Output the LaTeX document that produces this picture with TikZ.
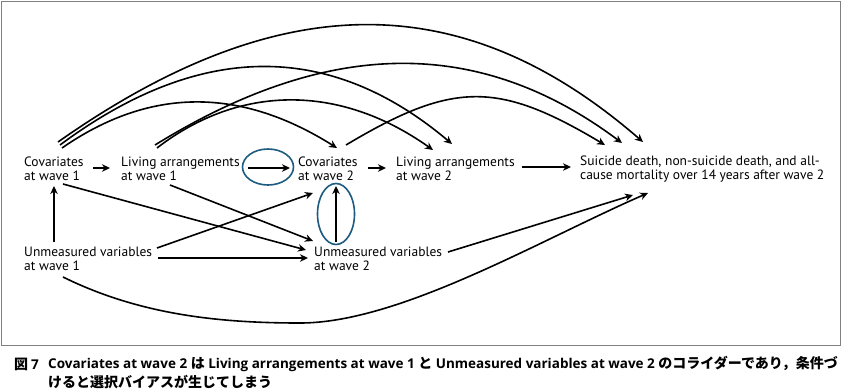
\documentclass[tikz,border=0pt]{standalone}
\usepackage{fontspec}
\setmainfont{PT Sans}
\newfontfamily\cjk{Noto Sans CJK JP}
\newfontfamily\caplat{Open Sans}
\usetikzlibrary{arrows.meta,calc}
\definecolor{ringblue}{HTML}{1D5B80}
\tikzset{
  lbl/.style={anchor=west, align=left, inner sep=0pt, font=\fontsize{13.5}{14}\selectfont},
  arr/.style={line width=1.6pt, -{Stealth[length=8pt,width=7.5pt,inset=2.5pt]}},
  ring/.style={draw=ringblue, line width=1.6pt},
  captxt/.style={anchor=west, inner sep=0pt, font=\caplat\bfseries\fontsize{13.5}{18}\selectfont}
}
\newcommand{\jp}[1]{{\cjk\fontsize{14}{18}\selectfont #1}}
\begin{document}
\begin{tikzpicture}[x=1pt,y=-1pt]
\useasboundingbox (0,0) rectangle (843,391);
\draw[gray, line width=1pt] (1.5,1.5) rectangle (840.5,345);

\node[lbl] (c1) at (24,169) {Covariates\\at wave 1};
\node[lbl] (l1) at (121,169) {Living arrangements\\at wave 1};
\node[lbl] (c2) at (298,169) {Covariates\\at wave 2};
\node[lbl] (l2) at (396,169) {Living arrangements\\at wave 2};
\node[lbl] (out) at (580,169) {Suicide death, non-suicide death, and all-\\cause mortality over 14 years after wave 2};
\node[lbl] (u1) at (24,259) {Unmeasured variables\\at wave 1};
\node[lbl] (u2) at (314,259) {Unmeasured variables\\at wave 2};

% straight arrows
\draw[arr] ([shift={(69,-1)}]c1.west) -- ([shift={(-11,-1)}]l1.west);
\draw[arr] ([shift={(127,-1)}]l1.west) -- ([shift={(-8,-1)}]c2.west);
\draw[arr] ([shift={(70,-1)}]c2.west) -- ([shift={(-10,-1)}]l2.west);
\draw[arr] ([shift={(126,-2)}]l2.west) -- ([shift={(-9,-2)}]out.west);
\draw[arr] ([shift={(30,-17)}]u1.west) -- ([shift={(30,17)}]c1.west);
\draw[arr] ([shift={(22,-17)}]u2.west) -- ([shift={(38,17)}]c2.west);
\draw[arr] ([shift={(39,15)}]c1.west) -- ([shift={(-8,-9)}]u2.west);
\draw[arr] ([shift={(49,16)}]l1.west) -- ([shift={(-1,-18)}]u2.west);
\draw[arr] ([shift={(133,-11)}]u1.west) -- ([shift={(15,24)}]c2.west);
\draw[arr] ([shift={(134,-1)}]u1.west) -- ([shift={(-6,-1)}]u2.west);
\draw[arr] ([shift={(134,-7)}]u2.west) -- ([shift={(53,26)}]out.west);

% rings
\draw[ring] ([shift={(-30,-2)}]c2.west) ellipse [x radius=25.5, y radius=18];
\draw[ring] ([shift={(22,-45)}]u2.west) ellipse [x radius=18.5, y radius=30.5];

% bottom curve
\draw[arr] ([shift={(39,18)}]u1.west) .. controls (140,315) and (220,323) .. (300,323)
  .. controls (400,323) and (540,240) .. ([shift={(68,24)}]out.west);

% top arcs
\draw[arr] ([shift={(34,-27)}]c1.west) .. controls (280,-14) and (463,-14) .. ([shift={(63,-27)}]out.west);
\draw[arr] ([shift={(36,-24)}]c1.west) .. controls (200,41) and (330,41) .. ([shift={(56,-25)}]l2.west);
\draw[arr] ([shift={(38,-21)}]c1.west) .. controls (150,87) and (240,87) .. ([shift={(39,-21)}]c2.west);
\draw[arr] ([shift={(36,-21)}]l1.west) .. controls (240,84) and (340,84) .. ([shift={(37,-19)}]l2.west);
\draw[arr] ([shift={(34,-24)}]l1.west) .. controls (330,37) and (480,37) .. ([shift={(42,-26)}]out.west);
\draw[arr] ([shift={(48,-24)}]c2.west) .. controls (453,81) and (498,81) .. ([shift={(25,-24)}]out.west);

% caption
\node[captxt] (capnum) at (14,364) {\jp{図}\hspace{3pt}7};
\node[captxt] (cap1) at (48,364) {\XeTeXlinebreaklocale "ja"\XeTeXlinebreakskip=0pt plus 1pt\spaceskip=3.5pt\relax
  \hbox to 790pt{Covariates at wave 2 \jp{は} Living arrangements at wave 1 \jp{と} Unmeasured variables at wave 2 \jp{のコライダーであり，条件づ}}};
\node[captxt] (cap2) at (48,382) {\jp{けると選択バイアスが生じてしまう}};
\end{tikzpicture}
\end{document}
